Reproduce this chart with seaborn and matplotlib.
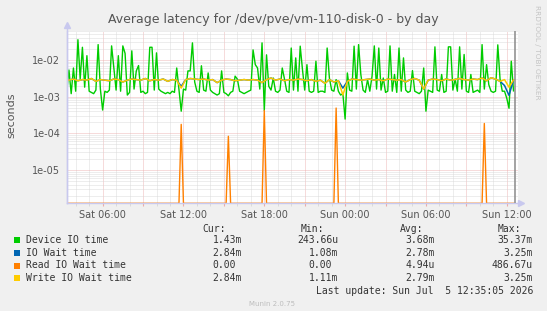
import numpy as np
import pandas as pd
import matplotlib
matplotlib.use("Agg")
import matplotlib.pyplot as plt
import matplotlib.dates as mdates
from matplotlib.ticker import FuncFormatter, LogLocator, NullFormatter
from matplotlib.patches import Rectangle
import seaborn as sns

# ---------------- text ----------------
TITLE = "Average latency for /dev/pve/vm-110-disk-0 - by day"
Y_LABEL = "seconds"
SERIES_NAMES = ["Device IO time", "IO Wait time", "Read IO Wait time", "Write IO Wait time"]
SERIES_COLORS = ["#00CC00", "#0066B3", "#FF8000", "#FFCC00"]
STAT_HEADERS = ["Cur:", "Min:", "Avg:", "Max:"]
STAT_CUR = ["1.43m", "2.84m", "0.00", "2.84m"]
STAT_MIN = ["243.66u", "1.08m", "0.00", "1.11m"]
STAT_AVG = ["3.68m", "2.78m", "4.94u", "2.79m"]
STAT_MAX = ["35.37m", "3.25m", "486.67u", "3.25m"]
LAST_UPDATE = "Last update: Sun Jul  5 12:35:05 2026"
VERSION = "Munin 2.0.75"
WATERMARK = "RRDTOOL / TOBI OETIKER"

# ---------------- time ----------------
VIEW_START = "2026-07-04 03:20"
VIEW_END = "2026-07-05 12:50"
NOW = "2026-07-05 12:35:05"
FAST_START = "2026-07-04 03:20"   # 10 minute samples (device, read)
SLOW_START = "2026-07-04 03:10"   # 20 minute samples (io wait, write)

# ---------------- data (milliseconds) ----------------
device_ms = [
    1.3, 5.3, 1.2, 6.0, 1.4, 35.37, 3.0, 22.0, 1.8, 13.0,
    1.4, 1.3, 1.2, 1.5, 26.0, 1.6, 0.43, 1.4, 1.3, 1.5,
    24.0, 6.0, 1.5, 13.0, 1.4, 24.0, 15.0, 1.1, 1.3, 17.6,
    1.6, 5.0, 7.0, 1.3, 1.4, 1.2, 1.3, 22.0, 22.0, 1.5,
    15.5, 1.6, 1.4, 1.3, 1.2, 1.3, 1.2, 1.4, 1.3, 6.0,
    1.5, 0.40, 1.6, 1.5, 5.0, 5.0, 29.0, 2.5, 1.4, 1.3,
    6.9, 1.5, 1.4, 4.4, 1.5, 1.3, 1.2, 1.1, 1.2, 5.0,
    1.3, 1.2, 1.05, 1.3, 1.4, 3.6, 3.0, 1.4, 1.3, 1.2,
    1.3, 1.4, 1.5, 18.7, 7.4, 6.0, 1.6, 29.0, 0.42, 13.7,
    1.9, 1.5, 3.2, 1.4, 1.3, 1.5, 6.0, 3.0, 1.4, 1.3,
    21.0, 1.5, 11.3, 1.4, 23.6, 5.5, 1.5, 7.4, 1.4, 1.3,
    1.4, 9.2, 1.3, 1.4, 1.4, 1.3, 21.0, 3.2, 1.5, 1.4,
    2.9, 1.4, 1.1, 1.2, 0.2437, 4.4, 1.5, 1.4, 23.6, 1.6,
    26.0, 4.0, 1.5, 1.3, 2.9, 1.4, 3.6, 24.0, 1.6, 21.0,
    1.5, 3.2, 1.3, 1.4, 24.0, 1.4, 4.0, 1.3, 21.0, 1.4,
    11.3, 1.5, 1.3, 1.4, 5.1, 1.4, 1.3, 1.2, 1.4, 6.0,
    0.40, 1.5, 1.4, 1.3, 22.6, 1.5, 1.4, 4.0, 1.3, 1.4,
    22.6, 22.6, 1.5, 3.0, 1.4, 22.6, 1.6, 14.0, 1.4, 1.3,
    4.0, 1.3, 1.4, 1.5, 1.3, 26.0, 1.6, 7.4, 2.1, 1.4,
    1.3, 1.4, 25.6, 3.0, 1.4, 1.4, 0.9, 0.48, 9.2, 1.43,
]

read_ms = [
    0, 0, 0, 0, 0, 0, 0, 0, 0, 0, 0, 0, 0, 0, 0, 0, 0, 0, 0, 0,
    0, 0, 0, 0, 0, 0, 0, 0, 0, 0, 0, 0, 0, 0, 0, 0, 0, 0, 0, 0,
    0, 0, 0, 0, 0, 0, 0, 0, 0, 0, 0, 0.175, 0, 0, 0, 0, 0, 0, 0, 0,
    0, 0, 0, 0, 0, 0, 0, 0, 0, 0, 0, 0, 0.083, 0, 0, 0, 0, 0, 0, 0,
    0, 0, 0, 0, 0, 0, 0, 0, 0.42, 0, 0, 0, 0, 0, 0, 0, 0, 0, 0, 0,
    0, 0, 0, 0, 0, 0, 0, 0, 0, 0, 0, 0, 0, 0, 0, 0, 0, 0, 0, 0,
    0.487, 0, 0, 0, 0, 0, 0, 0, 0, 0, 0, 0, 0, 0, 0, 0, 0, 0, 0, 0,
    0, 0, 0, 0, 0, 0, 0, 0, 0, 0, 0, 0, 0, 0, 0, 0, 0, 0, 0, 0,
    0, 0, 0, 0, 0, 0, 0, 0, 0, 0, 0, 0, 0, 0, 0, 0, 0, 0, 0, 0,
    0, 0, 0, 0, 0, 0, 0.185, 0, 0, 0, 0, 0, 0, 0, 0, 0, 0, 0, 0, 0,
]

write_ms = [
    2.9, 2.8, 3.0, 2.7, 2.9, 2.8, 3.1, 2.6, 2.9, 2.8,
    2.7, 3.0, 2.9, 2.5, 2.8, 3.0, 2.9, 2.8, 3.1, 2.7,
    2.9, 2.8, 3.0, 2.6, 2.9, 2.8, 1.7, 2.9, 3.1, 3.0,
    2.9, 3.0, 2.8, 2.9, 2.4, 2.8, 3.0, 2.9, 2.7, 2.8,
    2.9, 2.8, 2.9, 2.8, 2.4, 2.9, 3.2, 2.8, 3.0, 2.7,
    2.9, 2.8, 3.0, 2.9, 2.7, 2.9, 2.6, 2.8, 2.3, 2.9,
    2.5, 2.7, 1.11, 2.6, 3.0, 2.9, 2.8, 2.9, 3.0, 2.8,
    2.9, 2.7, 3.0, 2.9, 2.8, 2.9, 2.5, 2.9, 3.1, 2.8,
    1.6, 2.8, 3.0, 2.9, 2.7, 3.0, 2.8, 2.9, 3.1, 2.9,
    2.8, 3.0, 2.9, 3.2, 2.7, 3.25, 3.0, 2.6, 2.9, 1.8, 2.84,
]

iowait_ms = [
    2.9, 2.8, 3.0, 2.7, 2.9, 2.8, 3.1, 2.6, 2.9, 2.8,
    2.7, 3.0, 2.9, 2.5, 2.8, 3.0, 2.9, 2.8, 3.1, 2.7,
    2.9, 2.8, 3.0, 2.6, 2.9, 2.8, 1.9, 2.9, 3.1, 3.0,
    2.9, 3.0, 2.8, 2.9, 2.4, 2.8, 3.0, 2.9, 2.7, 2.8,
    2.9, 2.8, 2.9, 2.8, 2.4, 2.9, 3.2, 2.8, 3.0, 2.7,
    2.9, 2.8, 3.0, 2.9, 2.7, 2.9, 2.6, 2.8, 2.3, 2.9,
    2.5, 2.7, 1.7, 2.6, 3.0, 2.9, 2.8, 2.9, 3.0, 2.8,
    2.9, 2.7, 3.0, 2.9, 2.8, 2.9, 2.5, 2.9, 3.1, 2.8,
    1.6, 2.8, 3.0, 2.9, 2.7, 3.0, 2.8, 2.9, 3.1, 2.9,
    2.8, 3.0, 2.9, 3.2, 2.7, 3.25, 3.0, 2.6, 2.0, 1.08, 2.84,
]

# ---------------- figure ----------------
W, H = 547, 311
BG = "#F0F0F0"
TXT = "#555555"
MINOR_GRID = "#D6D6D6"
MAJOR_GRID = "#EBAAAA"
AXIS_COL = "#C8C8EE"

plt.rcParams["lines.scale_dashes"] = False
plt.rcParams["font.family"] = ["DejaVu Sans"]

def fx(px):
    return px / W

def fy(py):
    return 1 - py / H

fig = plt.figure(figsize=(W / 100, H / 100), dpi=100, facecolor=BG)
ax = fig.add_axes([fx(66.7), fy(203.3), fx(518) - fx(66.7), fy(30.5) - fy(203.3)])
ax.set_facecolor("white")
ax.set_yscale("log")

YMIN, YMAX = 1.24e-6, 0.063

fast_t = pd.date_range(FAST_START, periods=len(device_ms), freq="10min")
slow_t = pd.date_range(SLOW_START, periods=len(write_ms), freq="20min")

df_dev = pd.DataFrame({"time": fast_t, "value": np.array(device_ms) * 1e-3})
df_wait = pd.DataFrame({"time": slow_t, "value": np.array(iowait_ms) * 1e-3})
df_read = pd.DataFrame({"time": fast_t, "value": np.clip(np.array(read_ms) * 1e-3, YMIN, None)})
df_write = pd.DataFrame({"time": slow_t, "value": np.array(write_ms) * 1e-3})

for df, col, lw in zip([df_dev, df_wait, df_read, df_write], SERIES_COLORS, [1.0, 1.1, 1.0, 1.1]):
    sns.lineplot(data=df, x="time", y="value", color=col, linewidth=lw,
                 estimator=None, ax=ax, legend=False)

ax.set_ylim(YMIN, YMAX)
ax.set_xlim(pd.Timestamp(VIEW_START), pd.Timestamp(VIEW_END))

# now marker
ax.axvline(pd.Timestamp(NOW), color="#8A8A8A", lw=1.1, zorder=5)

# grid
DOT = (0, (0.72, 0.72))
ax.yaxis.set_major_locator(LogLocator(base=10, numticks=20))
ax.yaxis.set_minor_locator(LogLocator(base=10, subs=np.arange(2, 10), numticks=20))
ax.yaxis.set_major_formatter(FuncFormatter(lambda v, _: f"{v:.0e}"))
ax.yaxis.set_minor_formatter(NullFormatter())
ax.xaxis.set_major_locator(mdates.HourLocator(byhour=range(0, 24, 3)))
ax.xaxis.set_minor_locator(mdates.HourLocator())

def xfmt(v, _):
    d = mdates.num2date(v)
    return d.strftime("%a %H:%M") if d.hour % 6 == 0 else ""

ax.xaxis.set_major_formatter(FuncFormatter(xfmt))
ax.grid(which="minor", color=MINOR_GRID, linestyle=DOT, linewidth=0.6)
ax.grid(which="major", color=MAJOR_GRID, linestyle=DOT, linewidth=0.6)
ax.set_axisbelow(True)

for s in ["top", "right"]:
    ax.spines[s].set_visible(False)
ax.spines["left"].set_color(AXIS_COL)
ax.spines["bottom"].set_color(AXIS_COL)
ax.spines["left"].set_linewidth(1.0)
ax.spines["bottom"].set_linewidth(1.0)

ax.tick_params(axis="y", which="both", length=0, pad=4.5, labelsize=7, labelcolor=TXT)
ax.tick_params(axis="x", which="major", length=2, color=MAJOR_GRID, pad=3, labelsize=7, labelcolor=TXT)
ax.tick_params(axis="x", which="minor", length=2, color=MINOR_GRID)
ax.set_xlabel("")
ax.set_ylabel("")

# axis arrows
fig.add_artist(plt.Line2D([fx(66.7), fx(66.7)], [fy(203.3), fy(25)], color=AXIS_COL, lw=1.0))
fig.add_artist(plt.Line2D([fx(66.7)], [fy(25)], marker="^", color=AXIS_COL, markersize=5, lw=0))
fig.add_artist(plt.Line2D([fx(518), fx(521)], [fy(203.3), fy(203.3)], color=AXIS_COL, lw=1.0))
fig.add_artist(plt.Line2D([fx(521)], [fy(203.3)], marker=">", color=AXIS_COL, markersize=5, lw=0))

# texts
fig.text(fx(273.5), fy(19), TITLE, ha="center", va="center", fontsize=9, color=TXT)
fig.text(fx(11), fy(115), Y_LABEL, ha="center", va="center", rotation=90, fontsize=8, color=TXT)
fig.text(fx(537.5), fy(5), WATERMARK, ha="center", va="top", rotation=270, fontsize=5.3, color="#C4C4C4")
fig.text(fx(272), fy(304), VERSION, ha="center", va="center", fontsize=5, color="#BDBDBD")

MONO = "DejaVu Sans Mono"
CHAR_W = 5.85
HEADER_RIGHT = [226, 324, 423, 521]
COL_RIGHT = [242, 338, 435, 533]
ROW_Y = [240.4, 253.0, 265.5, 278.0]

for hx, h in zip(HEADER_RIGHT, STAT_HEADERS):
    fig.text(fx(hx), fy(228.5), h, ha="right", va="center", fontsize=7, family=MONO, color="#333333")

cols = [STAT_CUR, STAT_MIN, STAT_AVG, STAT_MAX]
for r, (name, col) in enumerate(zip(SERIES_NAMES, SERIES_COLORS)):
    y = ROW_Y[r]
    fig.add_artist(Rectangle((fx(14), fy(y + 3)), 6 / W, 6 / H, transform=fig.transFigure,
                             facecolor=col, edgecolor="none"))
    fig.text(fx(26), fy(y), name, ha="left", va="center", fontsize=7, family=MONO, color="#333333")
    for cx, vals in zip(COL_RIGHT, cols):
        v = vals[r]
        right = cx if v[-1].isalpha() else cx - CHAR_W
        fig.text(fx(right), fy(y), v, ha="right", va="center", fontsize=7, family=MONO, color="#333333")

fig.text(fx(533), fy(290.5), LAST_UPDATE, ha="right", va="center", fontsize=7, family=MONO, color="#333333")

fig.savefig("out.png", dpi=100, facecolor=BG)
